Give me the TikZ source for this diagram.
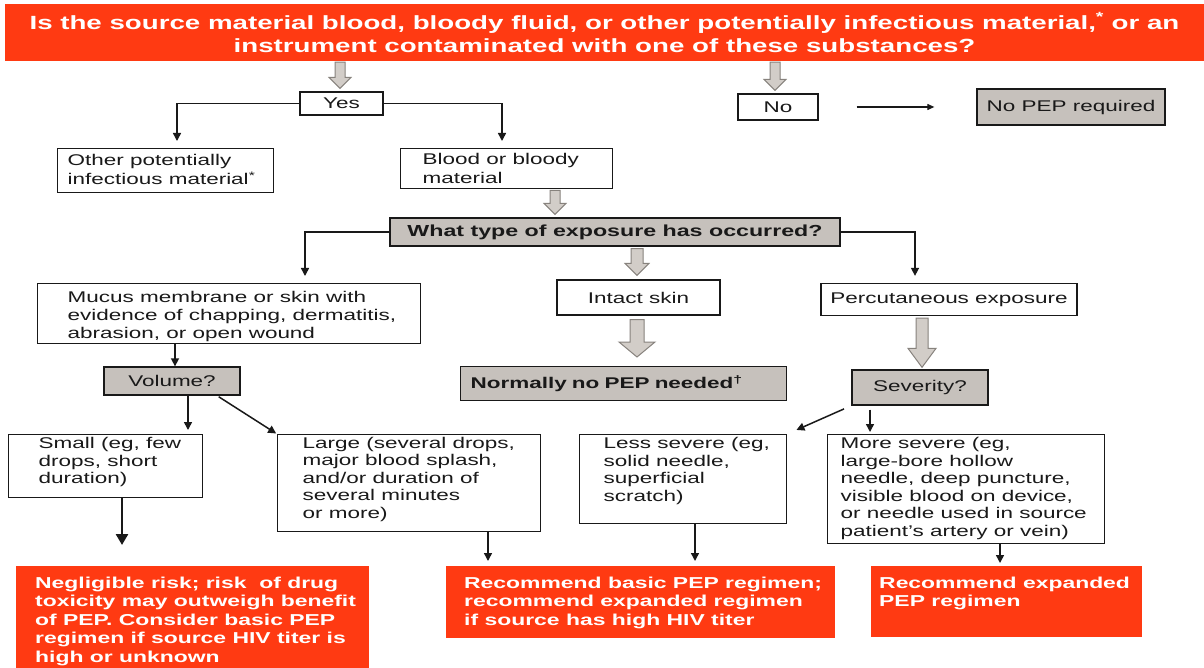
\documentclass[tikz,border=0pt]{standalone}
\usepackage{fontspec}
\setmainfont{Liberation Sans}[FakeStretch=1.45]
\usetikzlibrary{arrows.meta,calc}
\definecolor{pepred}{RGB}{255,58,18}
\definecolor{boxgray}{RGB}{198,193,188}
\definecolor{arrfill}{RGB}{210,205,200}
\definecolor{arrline}{RGB}{135,130,125}
\definecolor{ink}{RGB}{25,25,25}
% #1 style, #2 name, #3 x1, #4 y1, #5 x2, #6 y2, #7 padx, #8 pady, #9 text
\newcommand\tbox[9]{\node[#1, anchor=north west, inner xsep=0pt, inner ysep=#8pt] (#2) at (#3,#4)
  {\parbox[t][\dimexpr #6pt-#4pt-#8pt-#8pt\relax][t]{\dimexpr #5pt-#3pt\relax}{\leftskip=#7pt\rightskip=-60pt plus 1fil\parfillskip=0pt plus 1fil\strut#9}};}
\tikzset{
  wbox/.style={draw=ink, line width=1.3pt, fill=white, text=ink, font=\fontsize{15.5}{17.5}\selectfont},
  gbox/.style={wbox, fill=boxgray},
  rbox/.style={fill=pepred, draw=none, text=white, font=\fontsize{15.8}{18.5}\selectfont\bfseries},
  conn/.style={draw=ink, line width=1.5pt, -{Triangle[length=8pt,width=8pt]}},
  heavyconn/.style={draw=ink, line width=2.6pt, -{Triangle[length=11pt,width=12pt]}},
  blk/.style n args={5}{draw=arrline, fill=arrfill, line width=1pt,
    to path={let \p1=(\tikztostart), \p2=(\tikztotarget) in
      (\x1-#1,\y1-#4) -- (\x1-#1,\y2+#5+#3) -- (\x1-#2,\y2+#5+#3) -- (\x1,\y2+#5)
      -- (\x1+#2,\y2+#5+#3) -- (\x1+#1,\y2+#5+#3) -- (\x1+#1,\y1-#4) -- cycle}},
}
\begin{document}
\begin{tikzpicture}[x=1pt,y=-1pt]
\useasboundingbox (0,0) rectangle (1204,668);
\fill[white] (0,0) rectangle (1204,668);

% ---------- nodes ----------
\node[rbox, minimum width=1199pt, minimum height=57pt, inner sep=0pt, align=center,
      font=\fontsize{19.1}{23}\selectfont\bfseries] (banner) at (604.5,32.5)
  {Is the source material blood, bloody fluid, or other potentially infectious material,\textsuperscript{*} or an\\
   instrument contaminated with one of these substances?};

\node[wbox, minimum width=83pt, minimum height=23pt, inner sep=0pt] (yes) at (341.5,103.5) {Yes};
\node[wbox, minimum width=80pt, minimum height=26pt, inner sep=0pt] (no) at (778,107) {No};
\node[gbox, minimum width=188pt, minimum height=36pt, inner sep=0pt] (nopep) at (1071,107) {No PEP required};

\tbox{wbox, font=\fontsize{15.5}{19}\selectfont}{other}{57}{148}{273}{192}{10}{4}{Other potentially\\infectious material\textsuperscript{*}}
\tbox{wbox, font=\fontsize{15.5}{19}\selectfont}{blood}{400}{148}{612}{188}{22}{3}{Blood or bloody\\material}

\node[gbox, minimum width=450pt, minimum height=28pt, inner sep=0pt,
      font=\fontsize{16}{19}\selectfont\bfseries] (what) at (615,232) {What type of exposure has occurred?};

\tbox{wbox, font=\fontsize{15.5}{18}\selectfont}{mucus}{37}{283}{420}{343}{30}{6}{Mucus membrane or skin with\\evidence of chapping, dermatitis,\\abrasion, or open wound}
\node[wbox, minimum width=163pt, minimum height=35pt, inner sep=0pt] (intact) at (638.5,297.5) {Intact skin};
\node[wbox, minimum width=256pt, minimum height=32pt, inner sep=0pt] (percut) at (949,299.5) {Percutaneous exposure};

\node[gbox, minimum width=136pt, minimum height=28pt, inner sep=0pt] (volume) at (172,381) {Volume?};
\node[gbox, anchor=north west, minimum height=34pt, inner xsep=10pt, inner ysep=0pt, text width=306pt, align=left,
      font=\fontsize{15.5}{18}\selectfont\bfseries] (normally) at (460,366) {Normally no PEP needed\textsuperscript{\textdagger}};
\node[gbox, minimum width=136pt, minimum height=35pt, inner sep=0pt] (severity) at (920,387.5) {Severity?};

\tbox{wbox}{small}{8}{434}{202}{497}{30}{2}{Small (eg, few\\drops, short\\duration)}
\tbox{wbox}{large}{277}{434}{540}{531}{25}{1.5}{Large (several drops,\\major blood splash,\\and/or duration of\\several minutes\\or more)}
\tbox{wbox}{less}{579}{434}{786}{523}{24}{2}{Less severe (eg,\\solid needle,\\superficial\\scratch)}
\tbox{wbox}{more}{827}{434}{1104}{543}{13}{2}{More severe (eg,\\large-bore hollow\\needle, deep puncture,\\visible blood on device,\\or needle used in source\\patient's artery or vein)}

\tbox{rbox}{negl}{16}{566}{369}{668}{19}{9}{Negligible risk; risk\ \ of drug\\toxicity may outweigh benefit\\of PEP. Consider basic PEP\\regimen if source HIV titer is\\high or unknown}
\tbox{rbox}{basic}{446}{566}{835}{638}{18}{9}{Recommend basic PEP regimen;\\recommend expanded regimen\\if source has high HIV titer}
\tbox{rbox}{expanded}{871}{566}{1142}{637}{8}{9}{Recommend expanded\\PEP regimen}

% ---------- x positions of connectors ----------
\coordinate (xa) at (340,0);
\coordinate (xb) at (775,0);
\coordinate (xc) at (177,0);
\coordinate (xd) at (502,0);
\coordinate (xe) at (555,0);
\coordinate (xf) at (305,0);
\coordinate (xg) at (915,0);
\coordinate (xh) at (637,0);
\coordinate (xi) at (175,0);
\coordinate (xj) at (922,0);
\coordinate (xk) at (188,0);
\coordinate (xl) at (217,0);
\coordinate (xm) at (870,0);
\coordinate (xn) at (488,0);
\coordinate (xo) at (695,0);
\coordinate (xp) at (1000,0);
\coordinate (smallend) at (122,545);

% ---------- block arrows ----------
\draw[blk={5pt}{11pt}{11pt}{1pt}{3pt}] (banner.south -| xa) to (yes.north -| xa);
\draw[blk={5pt}{11pt}{11pt}{1pt}{3pt}] (banner.south -| xb) to (no.north -| xb);
\draw[blk={5pt}{11pt}{11pt}{1pt}{3pt}] (blood.south -| xe) to (what.north -| xe);
\draw[blk={6pt}{12pt}{12pt}{2pt}{4pt}] (what.south -| xh) to (intact.north -| xh);
\draw[blk={7pt}{18pt}{15pt}{4pt}{9pt}] (intact.south -| xh) to (normally.north -| xh);
\draw[blk={6pt}{14pt}{19pt}{2pt}{2pt}] (percut.south -| xj) to (severity.north -| xj);

% ---------- thin connectors ----------
\draw[conn, line width=1.1pt, -{Triangle[length=7pt,width=6pt]}, shorten <=38pt, shorten >=42pt] (no.east) -- (nopep.west);
\draw[conn, shorten >=7pt] (yes.west) -| (other.north -| xc);
\draw[conn, shorten >=7pt] (yes.east) -| (blood.north -| xd);
\draw[conn, shorten >=7pt] (what.west) -| (mucus.north -| xf);
\draw[conn, shorten >=7pt] (what.east) -| (percut.north -| xg);
\draw[conn] (mucus.south -| xi) -- (volume.north -| xi);
\draw[conn, shorten >=4pt] (volume.south -| xk) -- (small.north -| xk);
\draw[conn, shorten <=2pt, shorten >=1pt] (volume.south -| xl) -- (large.north west);
\draw[conn, shorten <=8pt, shorten >=10pt] (severity.south west) -- (less.north east);
\draw[conn, shorten <=4pt, shorten >=2pt] (severity.south -| xm) -- (more.north -| xm);
\draw[heavyconn] (small.south -| smallend) -- (smallend);
\draw[conn, shorten >=5pt] (large.south -| xn) -- (basic.north -| xn);
\draw[conn, shorten >=5pt] (less.south -| xo) -- (basic.north -| xo);
\draw[conn, shorten >=3pt] (more.south -| xp) -- (expanded.north -| xp);
\end{tikzpicture}
\end{document}
